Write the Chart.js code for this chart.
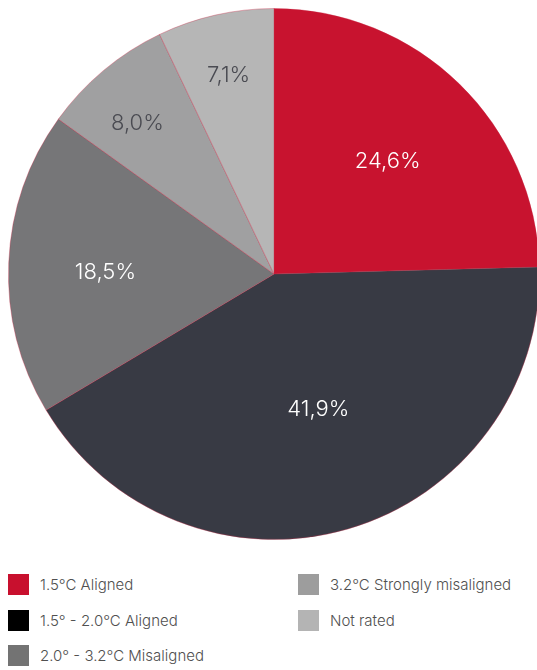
<!DOCTYPE html>
<html>
<head>
<meta charset="utf-8">
<script src="https://cdn.jsdelivr.net/npm/chart.js@4.4.0/dist/chart.umd.min.js"></script>
<style>
  html, body { margin: 0; padding: 0; background: #fff; overflow: hidden; }
  body { width: 537px; height: 670px; position: relative; font-family: Inter, Roboto, sans-serif; }
  #wrap { position: absolute; left: 0; top: 0; width: 548px; height: 548px; }
  #legend {
    position: absolute; left: 8px; top: 574px; width: 529px;
    display: grid; grid-auto-flow: column; grid-template-rows: repeat(3, 35.7px);
    grid-template-columns: 290px 230px;
  }
  .item { display: flex; align-items: flex-start; height: 35.7px; }
  .sw { width: 21px; height: 21px; flex: none; }
  .lbl { margin-left: 11px; font-size: 15px; font-weight: 300; color: #505050; line-height: 21px; white-space: nowrap; }
</style>
</head>
<body>
<div id="wrap"><canvas id="pie"></canvas></div>
<div id="legend"></div>

<script>
// kategori dan nilai (persen)
const categories = [
  "1.5°C Aligned",
  "1.5° - 2.0°C Aligned",
  "2.0° - 3.2°C Misaligned",
  "3.2°C Strongly misaligned",
  "Not rated",
];
const values = [24.6, 41.9, 18.5, 8.0, 7.1];

// warna irisan dan warna kotak legenda
const sliceColors = ["#c8132f", "#383a44", "#767678", "#a0a0a1", "#b6b6b6"];
const legendColors = ["#c8102e", "#000000", "#737373", "#9d9d9d", "#b4b4b4"];
const labelColors = ["#ffffff", "#ffffff", "#ffffff", "#4a4b52", "#4a4b52"];
// jarak label dari pusat (relatif terhadap radius) + geser sudut (derajat)
const labelRadius = [0.606, 0.53, 0.635, 0.77, 0.774];
const labelNudge = [0.7, -2.2, -1.3, -2, 0];

// Plugin untuk menulis persen di dalam irisan
const sliceLabels = {
  id: "sliceLabels",
  afterDatasetsDraw(chart) {
    const ctx = chart.ctx;
    const meta = chart.getDatasetMeta(0);
    ctx.save();
    ctx.font = "300 22px Inter, Roboto, sans-serif";
    ctx.textAlign = "center";
    ctx.textBaseline = "alphabetic";
    meta.data.forEach(function (arc, i) {
      const mid = (arc.startAngle + arc.endAngle) / 2 + (labelNudge[i] * Math.PI) / 180;
      const r = arc.outerRadius * labelRadius[i];
      const x = arc.x + Math.cos(mid) * r;
      const y = arc.y + Math.sin(mid) * r;
      ctx.fillStyle = labelColors[i];
      ctx.fillText(values[i].toFixed(1).replace(".", ",") + "%", x, y + 8);
    });
    ctx.restore();
  },
};

const chart = new Chart(document.getElementById("pie"), {
  type: "pie",
  data: {
    labels: categories,
    datasets: [
      {
        data: values,
        backgroundColor: sliceColors,
        borderColor: "rgba(200, 40, 70, 0.35)",
        borderWidth: 1,
        hoverOffset: 0,
      },
    ],
  },
  options: {
    responsive: true,
    maintainAspectRatio: false,
    animation: false,
    layout: { padding: 8 },
    plugins: {
      legend: { display: false },
      tooltip: { enabled: false },
    },
  },
  plugins: [sliceLabels],
});

// Legenda dua kolom (urut ke bawah dulu)
const legendEl = document.getElementById("legend");
categories.forEach(function (name, i) {
  const item = document.createElement("div");
  item.className = "item";
  item.innerHTML =
    '<span class="sw" style="background:' + legendColors[i] + '"></span>' +
    '<span class="lbl">' + name + "</span>";
  legendEl.appendChild(item);
});
</script>
</body>
</html>
